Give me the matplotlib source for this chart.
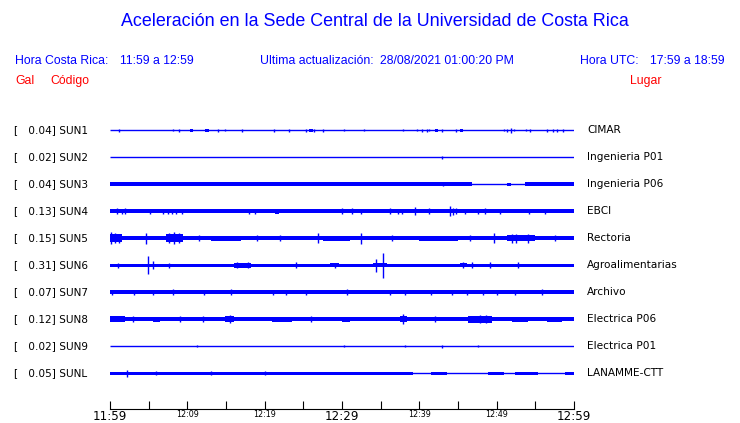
import matplotlib
matplotlib.use("Agg")
import matplotlib.pyplot as plt

W, H = 740, 423
BLUE = "#0000ff"
RED = "#ff0000"

# station info (top to bottom)
stations = ["SUN1", "SUN2", "SUN3", "SUN4", "SUN5", "SUN6", "SUN7", "SUN8", "SUN9", "SUNL"]
places = ["CIMAR", "Ingenieria P01", "Ingenieria P06", "EBCI", "Rectoria",
          "Agroalimentarias", "Archivo", "Electrica P06", "Electrica P01", "LANAMME-CTT"]
peak_gal = [0.04, 0.02, 0.04, 0.13, 0.15, 0.31, 0.07, 0.12, 0.02, 0.05]

# time scale, minutes after 11:59
tick_min = list(range(0, 61, 5))
tick_lbl = ["11:59", "", "12:09", "", "12:19", "", "12:29", "", "12:39", "", "12:49", "", "12:59"]
big_ticks = ["11:59", "12:29", "12:59"]

# envelope of each trace (half width in px)
# base_steps: (start minute, half width)
base_steps = [
    [(0, 0.5)],
    [(0, 0.5)],
    [(0, 1.8), (46.8, 0.5), (53.6, 1.8)],
    [(0, 1.9)],
    [(0, 2.2)],
    [(0, 1.4)],
    [(0, 1.8)],
    [(0, 2.1)],
    [(0, 0.5)],
    [(0, 1.7), (26.0, 1.3), (39.2, 0.5)],
]
# bursts: (start minute, end minute, half width)
bursts = [
    [(10.3, 10.7, 1.5), (12.3, 12.8, 1.5), (25.7, 26.2, 1.7), (42.0, 42.4, 1.5), (45.2, 45.6, 1.5)],
    [],
    [(51.4, 51.8, 1.5)],
    [(21.3, 21.8, 2.5)],
    [(0.0, 1.6, 3.8), (7.3, 9.4, 4.2), (51.3, 55.0, 3.2), (13.0, 17.0, 2.6), (27.5, 31.0, 2.6),
     (40.0, 45.0, 2.6)],
    [(16.0, 18.2, 2.3), (28.5, 29.6, 2.0), (34.0, 35.8, 2.2), (45.3, 46.2, 2.1)],
    [(0.0, 1.0, 2.2)],
    [(0.0, 2.0, 2.8), (5.5, 6.5, 2.6), (14.9, 16.0, 3.2), (21.0, 23.5, 2.6), (30.0, 31.0, 2.5),
     (37.5, 38.4, 3.2), (46.3, 49.4, 3.3), (52.0, 54.0, 2.6), (56.5, 58.5, 2.6)],
    [],
    [(41.5, 43.6, 1.5), (48.9, 51.0, 1.5), (52.4, 55.4, 1.5), (58.8, 60.0, 1.5)],
]
# spikes: (minute, half height)
spikes = [
    [(1.1, 1.7), (8.2, 1.2), (8.9, 1.7), (14.0, 1.7), (14.9, 1.2), (17.1, 1.7), (21.2, 1.7),
     (23.1, 1.7), (25.4, 1.7), (26.4, 1.7), (27.6, 1.7), (30.3, 1.2), (32.8, 1.2), (37.9, 1.2),
     (39.7, 1.2), (40.3, 1.7), (41.0, 1.7), (41.3, 1.2), (42.9, 1.7), (44.7, 1.7), (50.9, 1.2),
     (51.4, 1.7), (51.9, 2.5), (52.2, 1.2), (53.8, 1.2), (54.3, 1.7), (56.5, 1.7), (57.3, 1.7),
     (57.8, 1.7), (58.6, 1.7)],
    [(42.9, 1.5)],
    [(43.0, 2.2)],
    [(0.9, 3.0), (1.5, 2.7), (1.9, 3.0), (5.2, 2.5), (6.9, 2.5), (7.5, 2.7), (8.0, 2.7), (8.5, 2.5),
     (9.3, 2.5), (18.0, 2.5), (18.8, 2.7), (30.0, 3.0), (31.3, 3.2), (32.5, 2.5), (36.2, 3.0),
     (37.2, 2.5), (37.7, 2.5), (39.4, 4.2), (41.3, 3.2), (44.0, 5.0), (44.4, 3.5), (44.7, 3.0),
     (45.9, 2.5), (47.6, 2.5), (48.5, 3.0), (50.4, 2.5), (54.2, 2.5), (56.3, 2.5)],
    [(0.1, 6.0), (0.6, 5.0), (1.1, 4.5), (4.7, 5.5), (7.6, 5.0), (8.3, 6.2), (8.9, 5.0),
     (26.9, 5.0), (32.5, 5.5), (49.6, 5.0), (52.0, 4.5), (52.5, 4.5), (54.0, 4.5), (57.5, 3.2),
     (11.5, 3.0), (19.0, 3.0), (22.0, 3.2), (36.5, 3.0), (46.5, 3.0)],
    [(1.0, 2.5), (4.9, 8.8), (5.6, 4.0), (7.6, 2.5), (16.4, 3.2), (17.8, 3.2), (24.0, 3.2),
     (29.1, 2.5), (34.4, 6.5), (35.3, 12.5), (45.7, 3.2), (46.8, 2.8), (49.2, 2.8), (52.8, 2.8)],
    [(0.2, 2.5), (3.1, 2.3), (5.5, 2.3), (8.1, 3.0), (12.2, 2.3), (15.6, 2.8), (21.1, 2.3),
     (22.8, 2.3), (25.4, 2.3), (30.6, 3.2), (36.2, 2.3), (38.1, 2.3), (41.5, 2.3), (44.2, 2.3),
     (46.1, 2.3), (48.2, 2.3), (50.1, 2.3), (52.4, 2.3), (55.8, 3.2)],
    [(15.5, 4.0), (37.9, 4.8), (47.8, 4.2), (48.6, 4.0), (3.0, 3.0), (9.0, 3.0), (12.0, 3.0),
     (26.0, 3.0), (42.0, 3.0)],
    [(11.2, 1.2), (30.3, 1.2), (38.1, 1.2), (42.9, 1.7), (47.6, 1.2)],
    [(2.15, 3.5), (6.0, 2.2), (13.0, 2.2), (20.0, 2.2)],
]

fig = plt.figure(figsize=(W / 100, H / 100), dpi=100)


def put(x, y, s, **kw):
    fig.text(x / W, 1 - y / H, s, **kw)


# header
hdr = dict(family="Liberation Sans", fontsize=8.8, color=BLUE, va="center")
put(375, 22, "Aceleración en la Sede Central de la Universidad de Costa Rica",
    family="Liberation Sans", fontsize=12.9, color=BLUE, ha="center", va="center")
put(15, 61, "Hora Costa Rica:", **hdr)
put(120, 61, "11:59 a 12:59", **hdr)
put(260, 61, "Ultima actualización:", **hdr)
put(380, 61, "28/08/2021 01:00:20 PM", **hdr)
put(580, 61, "Hora UTC:", **hdr)
put(650, 61, "17:59 a 18:59", **hdr)
red = dict(hdr, color=RED)
put(15, 81, "Gal", **red)
put(50, 81, "Código", **red)
put(630, 81, "Lugar", **red)

# traces drawn in an axes whose y units are pixels
x0, x1 = 110, 574
ax = fig.add_axes([x0 / W, 0, (x1 - x0) / W, 1])
ax.set_xlim(0, 60)
ax.set_ylim(H, 0)
ax.axis("off")

for i, name in enumerate(stations):
    yc = 130.3 + 27 * i
    steps = base_steps[i]
    ts = [s[0] for s in steps] + [60]
    ws = [s[1] for s in steps] + [steps[-1][1]]
    ax.plot([0, 60], [yc, yc], color=BLUE, lw=1.0, solid_capstyle="butt")
    if max(ws) > 0.7:
        ax.fill_between(ts, [yc - w for w in ws], [yc + w for w in ws],
                        step="post", color=BLUE, lw=0)
    for b0, b1, h in bursts[i]:
        ax.fill_between([b0, b1], yc - h, yc + h, color=BLUE, lw=0)
    if spikes[i]:
        st = [s[0] for s in spikes[i]]
        sh = [s[1] for s in spikes[i]]
        ax.vlines(st, [yc - h for h in sh], [yc + h for h in sh], color=BLUE, lw=1.0)

    put(14, yc, f"[   {peak_gal[i]:.2f}] {name}", fontsize=7.6, color="black", va="center")
    put(587, yc, places[i], fontsize=7.6, color="black", va="center")

# time scale
axt = fig.add_axes([x0 / W, 1 - 409 / H, (x1 - x0) / W, 0.0001])
axt.set_xlim(0, 60)
axt.set_yticks([])
for sp in ["top", "left", "right"]:
    axt.spines[sp].set_visible(False)
axt.spines["bottom"].set_linewidth(0.8)
axt.set_xticks(tick_min, labels=tick_lbl)
axt.tick_params(axis="x", direction="in", length=6, width=0.8, pad=1)
for lbl in axt.get_xticklabels():
    lbl.set_fontsize(8.6 if lbl.get_text() in big_ticks else 5.8)

fig.savefig("out.png", dpi=100)
